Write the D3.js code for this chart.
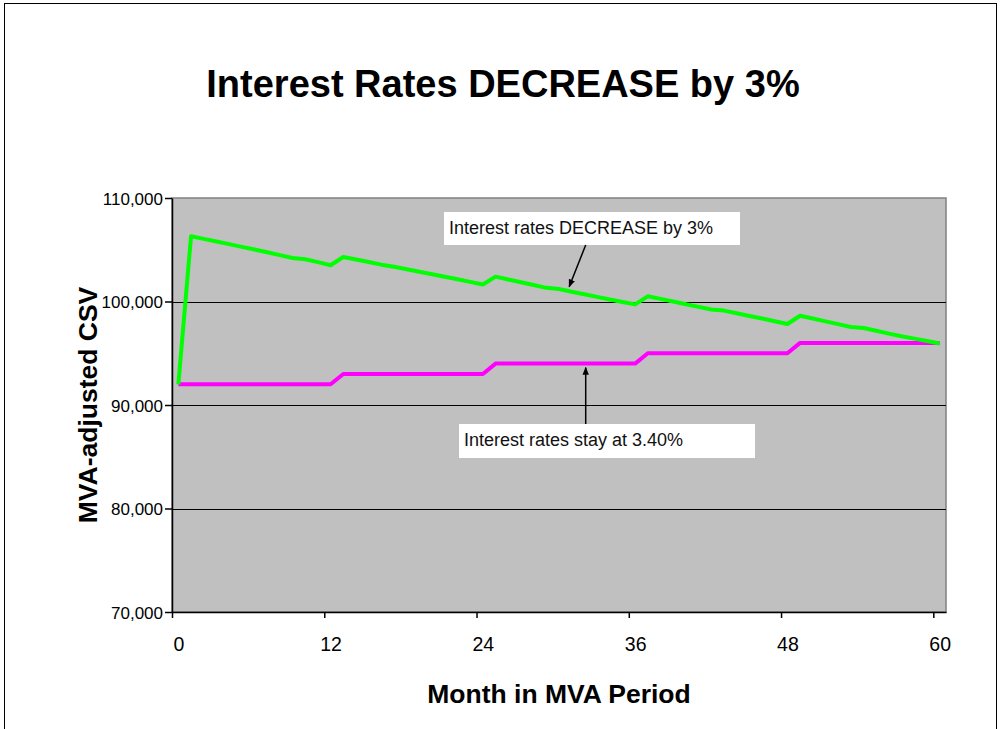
<!DOCTYPE html>
<html>
<head>
<meta charset="utf-8">
<script src="https://cdn.jsdelivr.net/npm/d3@7/dist/d3.min.js"></script>
<style>
  html, body { margin: 0; padding: 0; background: #fff; }
  svg { display: block; font-family: Arial, "Liberation Sans", sans-serif; }
</style>
</head>
<body>
<svg id="chart" width="1000" height="729"></svg>
<script>
// ---- data ----
const months = d3.range(0, 61);
const decreaseSeries = [
  92000, 106300, 106050, 105800, 105540, 105280, 105020, 104760, 104480, 104200,
  104080, 103800, 103500,
  104300, 104060, 103820, 103560, 103350, 103110, 102870, 102630, 102390, 102150,
  101900, 101650,
  102400, 102130, 101860, 101590, 101320, 101200, 100950, 100700, 100450, 100200,
  99950, 99720,
  100500, 100250, 100000, 99740, 99480, 99230, 99120, 98860, 98600, 98350,
  98090, 97830,
  98620, 98350, 98080, 97810, 97540, 97440, 97170, 96900, 96640, 96410,
  96180, 95950
];
const staySeries = [
  92000, 92000, 92000, 92000, 92000, 92000, 92000, 92000, 92000, 92000,
  92000, 92000, 92000,
  93000, 93000, 93000, 93000, 93000, 93000, 93000, 93000, 93000, 93000,
  93000, 93000,
  94000, 94000, 94000, 94000, 94000, 94000, 94000, 94000, 94000, 94000,
  94000, 94000,
  95000, 95000, 95000, 95000, 95000, 95000, 95000, 95000, 95000, 95000,
  95000, 95000,
  96000, 96000, 96000, 96000, 96000, 96000, 96000, 96000, 96000, 96000,
  96000, 96000
];
const xTickLabels = [0, 12, 24, 36, 48, 60];
const yTickLabels = [70000, 80000, 90000, 100000, 110000];
const titleText = "Interest Rates DECREASE by 3%";
const xTitle = "Month in MVA Period";
const yTitle = "MVA-adjusted CSV";
const noteDecrease = "Interest rates DECREASE by 3%";
const noteStay = "Interest rates stay at 3.40%";

// ---- layout ----
const svg = d3.select("#chart");
const L = 172, R = 946, T = 198, B = 612;

const x = d3.scaleLinear().domain([-0.5, 60.5]).range([L, R]);
const y = d3.scaleLinear().domain([70000, 110000]).range([B, T]);

// outer frame
svg.append("rect").attr("x", 4.5).attr("y", 3.5).attr("width", 992).attr("height", 760)
  .attr("fill", "none").attr("stroke", "#000").attr("stroke-width", 1);

// plot background
svg.append("rect").attr("x", L).attr("y", T).attr("width", R - L).attr("height", B - T)
  .attr("fill", "#c0c0c0").attr("stroke", "#808080").attr("stroke-width", 1.5);

// gridlines
svg.append("g").selectAll("line").data(yTickLabels.filter(v => v > 70000 && v < 110000))
  .join("line")
  .attr("x1", L).attr("x2", R)
  .attr("y1", d => Math.round(y(d)) + 0.5).attr("y2", d => Math.round(y(d)) + 0.5)
  .attr("stroke", "#000").attr("stroke-width", 1);

// y axis
const yAxis = svg.append("g").attr("transform", `translate(${L},0)`)
  .call(d3.axisLeft(y).tickValues(yTickLabels).tickSize(7).tickSizeOuter(0)
    .tickFormat(d3.format(",")));
yAxis.select(".domain").attr("stroke", "#000").attr("stroke-width", 1.5);
yAxis.selectAll(".tick line").attr("stroke", "#000").attr("stroke-width", 1.5);
yAxis.selectAll(".tick text").attr("font-size", 17).attr("fill", "#000")
  .attr("font-family", "Arial, 'Liberation Sans', sans-serif").attr("x", -9).attr("dy", "0.36em");

// x axis (ticks at category boundaries, labels at category centres)
const halfBand = x(0) - x(-0.5);
const xAxis = svg.append("g").attr("transform", `translate(0,${B})`)
  .call(d3.axisBottom(x).tickValues(xTickLabels.map(d => d - 0.5)).tickSize(6).tickSizeOuter(0)
    .tickFormat(d => String(d + 0.5)));
xAxis.select(".domain").attr("stroke", "#000").attr("stroke-width", 1.5);
xAxis.selectAll(".tick line").attr("stroke", "#000").attr("stroke-width", 1.5);
xAxis.selectAll(".tick text").attr("font-size", 19.5).attr("fill", "#000")
  .attr("font-family", "Arial, 'Liberation Sans', sans-serif")
  .attr("x", halfBand).attr("y", 25).attr("dy", "0.71em");

// lines
const line = d3.line().x((d, i) => x(months[i])).y(d => y(d));
svg.append("path").datum(staySeries).attr("d", line)
  .attr("fill", "none").attr("stroke", "#ff00ff").attr("stroke-width", 4)
  .attr("stroke-linejoin", "round");
svg.append("path").datum(decreaseSeries).attr("d", line)
  .attr("fill", "none").attr("stroke", "#00ff00").attr("stroke-width", 4)
  .attr("stroke-linejoin", "round");

// titles
svg.append("text").attr("x", 503).attr("y", 97).attr("text-anchor", "middle")
  .attr("font-size", 38).attr("font-weight", "bold").text(titleText);
svg.append("text").attr("x", (L + R) / 2).attr("y", 703).attr("text-anchor", "middle")
  .attr("font-size", 26.5).attr("font-weight", "bold").text(xTitle);
svg.append("text").attr("transform", `translate(97,${(T + B) / 2}) rotate(-90)`)
  .attr("text-anchor", "middle").attr("font-size", 26.5).attr("font-weight", "bold").text(yTitle);

// arrow marker
const defs = svg.append("defs");
defs.append("marker").attr("id", "arrow").attr("viewBox", "0 0 10 10")
  .attr("refX", 9).attr("refY", 5).attr("markerWidth", 8).attr("markerHeight", 8)
  .attr("markerUnits", "userSpaceOnUse").attr("orient", "auto")
  .append("path").attr("d", "M0,1 L10,5 L0,9 Z").attr("fill", "#000");

// annotation 1
svg.append("rect").attr("x", 444).attr("y", 212).attr("width", 296).attr("height", 33).attr("fill", "#fff");
svg.append("text").attr("x", 449).attr("y", 234).attr("font-size", 18).attr("fill", "#111").text(noteDecrease);
svg.append("line").attr("x1", 585.7).attr("y1", 245).attr("x2", x(31) - 2.5).attr("y2", y(decreaseSeries[31]) - 5)
  .attr("stroke", "#000").attr("stroke-width", 1.5).attr("marker-end", "url(#arrow)");

// annotation 2
svg.append("rect").attr("x", 459).attr("y", 424).attr("width", 296).attr("height", 34).attr("fill", "#fff");
svg.append("text").attr("x", 464).attr("y", 446).attr("font-size", 18).attr("fill", "#111").text(noteStay);
svg.append("line").attr("x1", 585.7).attr("y1", 424).attr("x2", 585.7).attr("y2", y(staySeries[32]) + 4)
  .attr("stroke", "#000").attr("stroke-width", 1.5).attr("marker-end", "url(#arrow)");
</script>
</body>
</html>
